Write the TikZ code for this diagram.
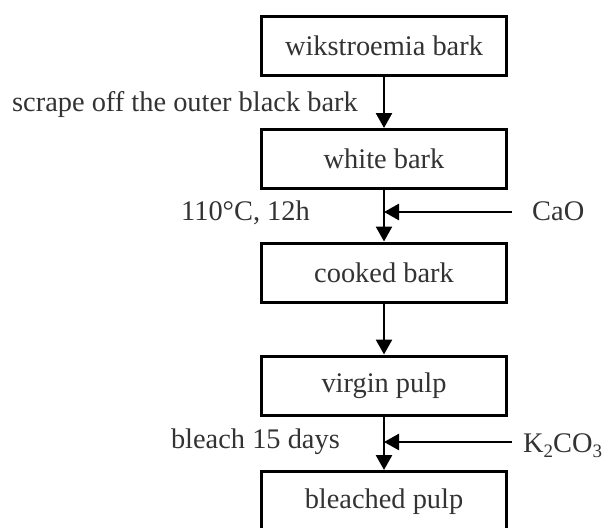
\documentclass[tikz,border=0pt]{standalone}
\usepackage{fontspec}
\setmainfont{Liberation Serif}
\usetikzlibrary{arrows.meta}
\tikzset{
  procbox/.style={draw=black, line width=3pt, minimum width=245pt, minimum height=59pt,
    inner sep=0pt, font=\fontsize{28.4}{34}\selectfont, text=black!80},
  flow/.style={line width=2.6pt, -{Triangle[length=15pt,width=16pt]}},
  lbl/.style={inner sep=0pt, font=\fontsize{28.4}{34}\selectfont, text=black!80},
}
\newcommand{\mysub}[1]{\raisebox{-5pt}{\fontsize{19}{19}\selectfont #1}}
\begin{document}
\begin{tikzpicture}[x=1pt,y=-1pt]
\useasboundingbox (0,0) rectangle (612,527);
\clip (0,0) rectangle (612,527);
\node[procbox] (b1) at (384,46) {wikstroemia bark};
\node[procbox] (b2) at (384,159) {white bark};
\node[procbox] (b3) at (384,272.5) {cooked bark};
\node[procbox] (b4) at (384,385.5) {virgin pulp};
\node[procbox, minimum height=61pt] (b5) at (384,502) {bleached pulp};
\draw[flow] (b1) -- (b2);
\draw[flow] (b2) -- (b3);
\draw[flow] (b3) -- (b4);
\draw[flow] (b4) -- (b5);
\coordinate (s1) at (512,212);
\coordinate (s2) at (512,442);
\draw[flow] (s1) -- (s1 -| b2.south);
\draw[flow] (s2) -- (s2 -| b4.south);
\node[lbl, anchor=base east] (t1) at (358,111) {scrape off the outer black bark};
\node[lbl, anchor=base east] (t2) at (310,220) {110°C, 12h};
\node[lbl, anchor=base east] (t3) at (340,448) {bleach 15 days};
\node[lbl, anchor=base west] (c1) at (532,220) {CaO};
\node[lbl, anchor=base west] (c2) at (523,452) {K\mysub{2}CO\mysub{3}};
\end{tikzpicture}
\end{document}
